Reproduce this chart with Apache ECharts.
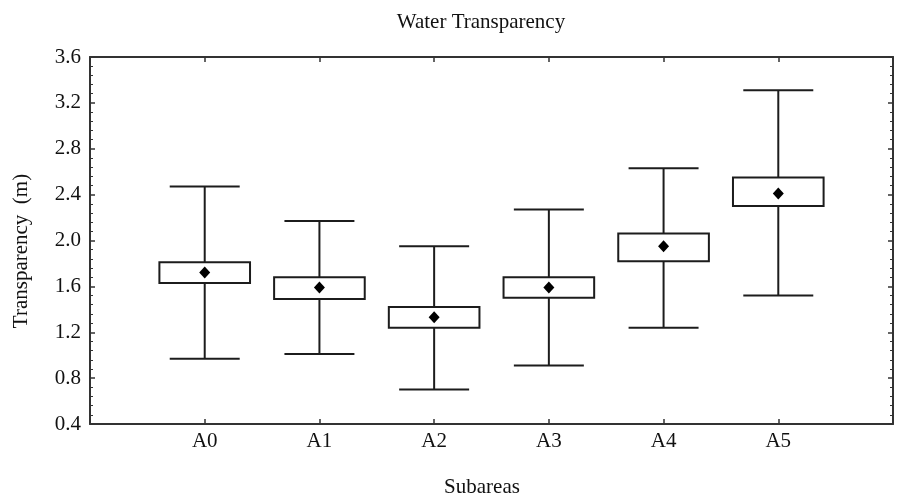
<!DOCTYPE html>
<html>
<head>
<meta charset="utf-8">
<script src="https://cdn.jsdelivr.net/npm/echarts@6/dist/echarts.min.js"></script>
<style>html,body{margin:0;padding:0;background:#fff}#c{width:903px;height:497px}</style>
</head>
<body>
<div id="c"></div>
<script>
var categories = ['A0', 'A1', 'A2', 'A3', 'A4', 'A5'];
var whiskerLow  = [0.97, 1.01, 0.70, 0.91, 1.24, 1.52];
var boxLow      = [1.63, 1.49, 1.24, 1.50, 1.82, 2.30];
var boxHigh     = [1.81, 1.68, 1.42, 1.68, 2.06, 2.55];
var whiskerHigh = [2.47, 2.17, 1.95, 2.27, 2.63, 3.31];
var means       = [1.72, 1.59, 1.33, 1.59, 1.95, 2.41];
var yTicks = {min: 0.4, max: 3.6, interval: 0.4};

var FONT = 'Liberation Serif';
var INK = '#1c1c1c';

var boxData = categories.map(function (c, i) {
  return [i, whiskerLow[i], boxLow[i], boxHigh[i], whiskerHigh[i]];
});
var meanData = categories.map(function (c, i) { return [i, means[i]]; });

function renderBox(params, api) {
  var i = api.value(0);
  var band = api.size([1, 0])[0];
  var bw = band * 0.79, cw = band * 0.61;
  var pLow = api.coord([i, api.value(1)]);
  var pQ1 = api.coord([i, api.value(2)]);
  var pQ3 = api.coord([i, api.value(3)]);
  var pHigh = api.coord([i, api.value(4)]);
  var x = pLow[0];
  var st = {stroke: INK, lineWidth: 2, fill: null};
  return {
    type: 'group',
    children: [
      {type: 'line', shape: {x1: x, y1: pLow[1], x2: x, y2: pQ1[1]}, style: st},
      {type: 'line', shape: {x1: x, y1: pQ3[1], x2: x, y2: pHigh[1]}, style: st},
      {type: 'line', shape: {x1: x - cw / 2, y1: pLow[1], x2: x + cw / 2, y2: pLow[1]}, style: st},
      {type: 'line', shape: {x1: x - cw / 2, y1: pHigh[1], x2: x + cw / 2, y2: pHigh[1]}, style: st},
      {type: 'rect', shape: {x: x - bw / 2, y: pQ3[1], width: bw, height: pQ1[1] - pQ3[1]},
        style: {stroke: INK, lineWidth: 2, fill: '#fff'}}
    ]
  };
}

var chart = echarts.init(document.getElementById('c'), null, {renderer: 'canvas'});
function axisLine() { return {show: true, onZero: false, lineStyle: {color: '#333', width: 2}}; }
var tick = {show: true, inside: true, length: 5, lineStyle: {color: '#333', width: 1.5}};
var minor = {show: true, splitNumber: 5, length: 3, lineStyle: {color: '#333', width: 1}};
var textStyle = {fontFamily: FONT, fontSize: 21, fontWeight: 'normal', color: '#111'};
chart.setOption({
  animation: false,
  backgroundColor: '#fff',
  title: [{
    text: 'Water Transparency', left: 476, textAlign: 'center', top: 7,
    textStyle: textStyle
  }, {
    text: 'Subareas', left: 477, textAlign: 'center', top: 472,
    textStyle: textStyle
  }],
  graphic: [{
    type: 'text', x: 21, y: 251, rotation: Math.PI / 2,
    style: {text: 'Transparency  (m)', font: '21px "Liberation Serif"', fill: '#111',
      textAlign: 'center', textVerticalAlign: 'middle'}
  }],
  grid: {left: 90, right: 10, top: 57, bottom: 73, containLabel: false},
  xAxis: [{
    type: 'value', min: -1, max: 6, interval: 1, position: 'bottom',
    axisLine: axisLine(), axisTick: tick,
    axisLabel: {
      fontFamily: FONT, fontSize: 21, color: '#111', margin: 7,
      formatter: function (v) { return categories[v] || ''; }
    },
    splitLine: {show: false}
  }, {
    type: 'value', min: -1, max: 6, interval: 1, position: 'top',
    axisLine: axisLine(), axisTick: tick,
    axisLabel: {show: false}, splitLine: {show: false}
  }],
  yAxis: [{
    type: 'value', min: yTicks.min, max: yTicks.max, interval: yTicks.interval, position: 'left',
    axisLine: axisLine(), axisTick: tick, minorTick: minor,
    axisLabel: {
      fontFamily: FONT, fontSize: 21, color: '#111', margin: 9,
      formatter: function (v) { return v.toFixed(1); }
    },
    splitLine: {show: false}
  }, {
    type: 'value', min: yTicks.min, max: yTicks.max, interval: yTicks.interval, position: 'right',
    axisLine: axisLine(), axisTick: tick, minorTick: minor,
    axisLabel: {show: false}, splitLine: {show: false}
  }],
  series: [{
    type: 'custom', xAxisIndex: 0, yAxisIndex: 0,
    renderItem: renderBox, data: boxData, z: 2,
    encode: {x: 0, y: [1, 2, 3, 4]}
  }, {
    type: 'scatter', xAxisIndex: 0, yAxisIndex: 0,
    symbol: 'diamond', symbolSize: [11, 12], data: meanData, z: 3,
    itemStyle: {color: '#000', opacity: 1}
  }]
});
</script>
</body>
</html>
